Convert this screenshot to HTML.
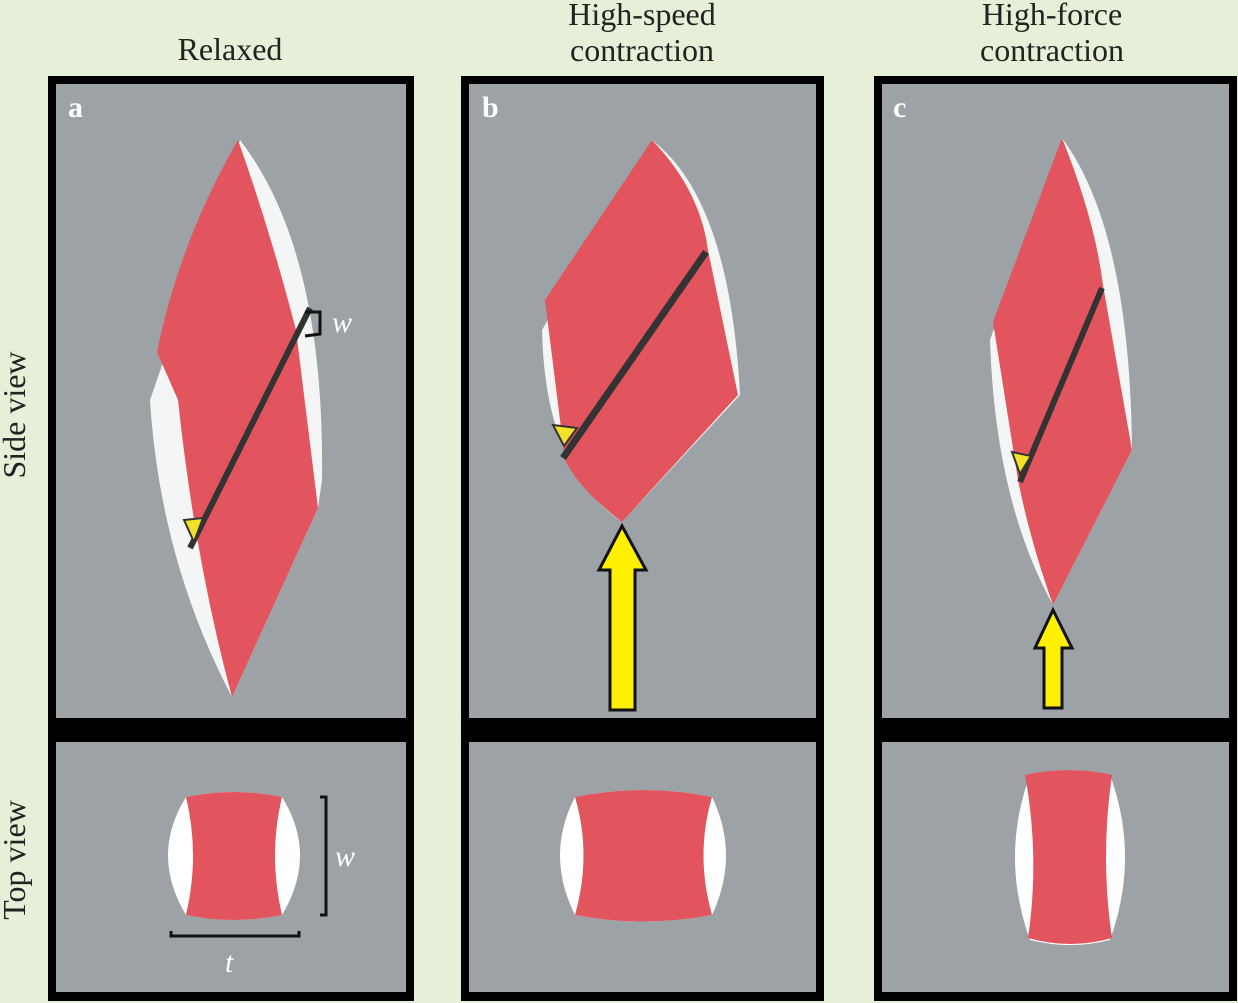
<!DOCTYPE html>
<html><head><meta charset="utf-8"><style>
html,body{margin:0;padding:0;background:#e6efd8;}
svg{display:block;}
text{font-family:"Liberation Serif",serif;}
</style></head><body>
<svg width="1238" height="1003" viewBox="0 0 1238 1003" xmlns="http://www.w3.org/2000/svg">
<rect width="1238" height="1003" fill="#e6efd8"/>
<g font-size="32" fill="#222" text-anchor="middle">
<text x="230" y="60">Relaxed</text>
<text x="642" y="25">High-speed</text>
<text x="642" y="61">contraction</text>
<text x="1052" y="25">High-force</text>
<text x="1052" y="61">contraction</text>
<text transform="translate(25,415) rotate(-90)">Side view</text>
<text transform="translate(25,860) rotate(-90)">Top view</text>
</g>
<g>
<rect x="48" y="76" width="366" height="925" fill="#000"/>
<rect x="56" y="84" width="350" height="634" fill="#9ca2a5"/>
<rect x="56" y="742" width="350" height="250" fill="#9ca2a5"/>
<rect x="461" y="76" width="363" height="925" fill="#000"/>
<rect x="469" y="84" width="347" height="634" fill="#9ca2a5"/>
<rect x="469" y="742" width="347" height="250" fill="#9ca2a5"/>
<rect x="874" y="76" width="363" height="925" fill="#000"/>
<rect x="882" y="84" width="347" height="634" fill="#9ca2a5"/>
<rect x="882" y="742" width="347" height="250" fill="#9ca2a5"/>
</g>
<g font-size="30" font-weight="bold" fill="#fff">
<text x="68" y="117">a</text><text x="482" y="117">b</text><text x="893" y="117">c</text>
</g>
<!-- panel a muscle -->
<path d="M240,140 Q325,250 322,480 L318,508 L232,697 Q160,560 150,400 Z" fill="#f4f6f6"/>
<path d="M238,140 Q270,230 296,330 L318,508 L232,697 Q195,560 178,400 L157,352 Q180,240 238,140 Z" fill="#e2545e"/>
<line x1="310" y1="308" x2="190" y2="548" stroke="#333" stroke-width="6"/>
<path d="M184,520 L203,518 L194,542 Z" fill="#f2e22a" stroke="#333" stroke-width="2"/>
<path d="M305,312 L320,312 L320,334 L305,336" fill="none" stroke="#111" stroke-width="3"/>
<text x="332" y="332" font-size="30" font-style="italic" fill="#fff">w</text>
<!-- panel b muscle -->
<path d="M652,140 Q730,200 740,395 L622,522 Q545,470 542,330 Z" fill="#f4f6f6"/>
<path d="M652,140 Q700,190 708,250 L738,395 L622,522 Q580,490 565,460 L545,300 Z" fill="#e2545e"/>
<line x1="706" y1="252" x2="563" y2="458" stroke="#333" stroke-width="7"/>
<path d="M553,425 L577,428 L564,446 Z" fill="#f2e22a" stroke="#333" stroke-width="2"/>
<path d="M622,526 L646,570 L635,570 L635,710 L610,710 L610,570 L599,570 Z" fill="#ffef00" stroke="#111" stroke-width="3"/>
<!-- panel c muscle -->
<path d="M1062,138 Q1130,230 1132,450 L1053,605 Q995,500 990,340 Z" fill="#f4f6f6"/>
<path d="M1062,138 Q1095,220 1103,285 L1132,450 L1053,605 Q1030,540 1018,480 L993,322 Z" fill="#e2545e"/>
<line x1="1102" y1="288" x2="1020" y2="482" stroke="#333" stroke-width="6"/>
<path d="M1012,452 L1031,456 L1020,474 Z" fill="#f2e22a" stroke="#333" stroke-width="2"/>
<path d="M1053,610 L1072,648 L1062,648 L1062,708 L1044,708 L1044,648 L1035,648 Z" fill="#ffef00" stroke="#111" stroke-width="3"/>
<!-- top views -->
<path d="M186,797 Q233,787 282,797 Q318,855 282,915 Q233,925 186,915 Q150,855 186,797 Z" fill="#fff"/>
<path d="M186,797 Q233,787 282,797 Q268,855 282,915 Q233,925 186,915 Q200,855 186,797 Z" fill="#e2545e"/>
<path d="M320,797 L326,797 L326,915 L320,915" fill="none" stroke="#111" stroke-width="3"/>
<path d="M171,931 L171,936 L299,936 L299,931" fill="none" stroke="#111" stroke-width="3"/>
<text x="335" y="866" font-size="30" font-style="italic" fill="#fff">w</text>
<text x="225" y="972" font-size="30" font-style="italic" fill="#fff">t</text>

<path d="M575,797 Q643,783 712,797 Q740,855 712,915 Q643,928 575,915 Q545,855 575,797 Z" fill="#fff"/>
<path d="M575,797 Q643,783 712,797 Q695,855 712,915 Q643,928 575,915 Q592,855 575,797 Z" fill="#e2545e"/>

<path d="M1030,775 Q1070,765 1110,775 Q1140,857 1110,940 Q1070,950 1030,940 Q1000,857 1030,775 Z" fill="#fff"/>
<path d="M1025,775 Q1070,765 1112,775 Q1100,857 1112,938 Q1070,950 1028,938 Q1040,857 1025,775 Z" fill="#e2545e"/>
</svg>
</body></html>
